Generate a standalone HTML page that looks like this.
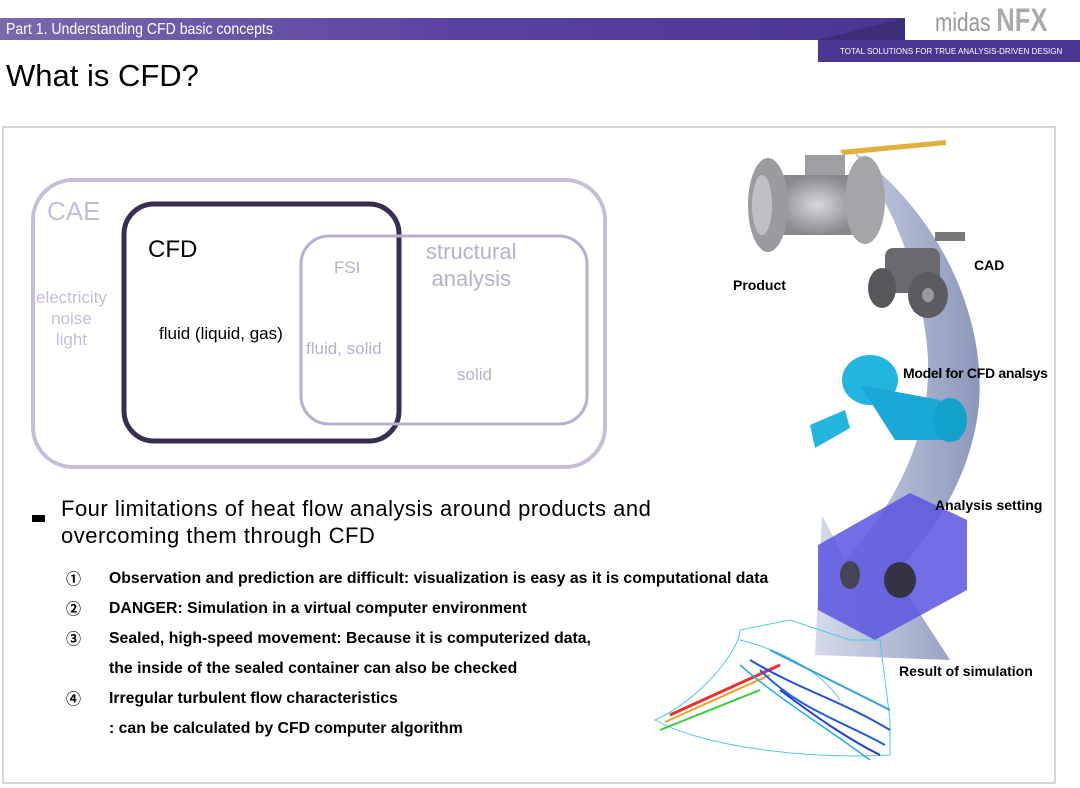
<!DOCTYPE html>
<html><head><meta charset="utf-8"><style>
body{margin:0;width:1080px;height:788px;background:#fff;position:relative;overflow:hidden;font-family:"Liberation Sans","Noto Sans CJK KR",sans-serif}
.a{position:absolute;white-space:nowrap}
</style></head><body>
<svg class="a" style="left:0;top:0" width="1080" height="788">
<defs>
<linearGradient id="hb" x1="0" x2="1"><stop offset="0" stop-color="#7a68ad"/><stop offset="0.5" stop-color="#5a43a0"/><stop offset="1" stop-color="#4a3590"/></linearGradient>
<linearGradient id="ar" x1="0" x2="1"><stop offset="0" stop-color="#d0d6e8"/><stop offset="1" stop-color="#7f8cb3"/></linearGradient>
<radialGradient id="vg"><stop offset="0" stop-color="#d8d8dc"/><stop offset="1" stop-color="#88888e"/></radialGradient>
</defs>
<rect x="0" y="18" width="905" height="22" fill="url(#hb)"/>
<polygon points="818,40 905,18 905,40" fill="#3e2d78"/>
<rect x="818" y="40" width="262" height="22" fill="#4a3590"/>
<rect x="3" y="127" width="1052" height="656" fill="none" stroke="#c8c8c8" stroke-width="1.5"/>
<rect x="33" y="180" width="572" height="287" rx="40" fill="none" stroke="#c7bdd9" stroke-width="4"/>
<rect x="124" y="204" width="275" height="237" rx="30" fill="none" stroke="#3a2d52" stroke-width="5"/>
<rect x="301" y="236" width="286" height="188" rx="28" fill="none" stroke="#b9aed0" stroke-width="3"/>
<!-- arrow -->
<path d="M852,150 C950,220 995,340 975,430 C960,500 920,545 895,575 L950,660 L815,655 L822,515 L845,560 C900,500 940,420 925,330 C915,260 890,200 852,150 Z" fill="url(#ar)" opacity="0.9"/>
<!-- product valve -->
<rect x="775" y="175" width="85" height="60" rx="10" fill="url(#vg)"/>
<ellipse cx="768" cy="205" rx="20" ry="47" fill="#9a9aa0"/>
<ellipse cx="762" cy="205" rx="10" ry="30" fill="#c0c0c4"/>
<ellipse cx="865" cy="200" rx="20" ry="44" fill="#a4a4aa"/>
<rect x="805" y="155" width="40" height="20" fill="#9d9da2"/>
<polygon points="840,150 946,140 946,145 843,155" fill="#e0b13a"/>
<!-- CAD -->
<rect x="885" y="248" width="55" height="45" rx="8" fill="#6a6a6e"/>
<ellipse cx="882" cy="288" rx="14" ry="20" fill="#58585c"/>
<ellipse cx="928" cy="295" rx="20" ry="23" fill="#5c5c60"/>
<ellipse cx="928" cy="295" rx="6" ry="7" fill="#999"/>
<rect x="935" y="232" width="30" height="9" fill="#777"/>
<!-- model -->
<ellipse cx="870" cy="380" rx="28" ry="25" fill="#22b5e0"/>
<polygon points="860,385 940,400 960,440 895,440" fill="#1aa8d6"/>
<ellipse cx="950" cy="420" rx="17" ry="22" fill="#13a0cc"/>
<polygon points="810,425 845,410 850,428 815,448" fill="#22b5e0"/>
<!-- analysis box -->
<polygon points="818,545 910,493 967,520 967,590 875,640 818,610" fill="#5a55e0" opacity="0.85"/>
<ellipse cx="900" cy="580" rx="16" ry="18" fill="#334"/>
<ellipse cx="850" cy="575" rx="10" ry="14" fill="#445"/>
<!-- result -->
<g fill="none" stroke-width="1">
<path d="M655,720 C700,700 740,650 740,630 L790,620 L850,640 L880,640 L890,720 L890,755 C800,760 700,745 655,720Z" stroke="#4dc8e8"/>
<path d="M740,640 C780,650 820,670 840,700" stroke="#4dc8e8"/>
<path d="M670,715 L780,665" stroke="#e83030" stroke-width="3"/>
<path d="M665,722 L770,675" stroke="#f5a020" stroke-width="2"/>
<path d="M660,730 L760,690" stroke="#3c3" stroke-width="2"/>
<path d="M750,660 C800,690 840,700 890,730" stroke="#2050e0" stroke-width="2"/>
<path d="M760,670 C800,710 840,720 885,745" stroke="#2060e0" stroke-width="2"/>
<path d="M770,650 C810,670 850,690 890,710" stroke="#30a0e0" stroke-width="2"/>
<path d="M780,690 C820,720 850,740 880,755" stroke="#2040d0" stroke-width="2"/>
<path d="M740,665 C780,700 830,730 870,760" stroke="#20b0e0" stroke-width="1.5"/>
</g>
</svg>
<div class="a" style="left:6px;top:21px;font-size:16px;color:#fff;transform:scaleX(0.88);transform-origin:0 0">Part 1. Understanding CFD basic concepts</div>
<div class="a" style="left:935px;top:2px;font-size:26px;color:#999;transform:scaleX(0.8);transform-origin:0 0">midas <b style="font-size:32px;color:#aaa">NFX</b></div>
<div class="a" style="left:840px;top:47px;font-size:8px;color:#fff">TOTAL SOLUTIONS FOR TRUE ANALYSIS-DRIVEN DESIGN</div>
<div class="a" style="left:6px;top:58px;font-size:31px;color:#000">What is CFD?</div>
<div class="a" style="left:47px;top:196px;font-size:26px;color:#c7bdd9">CAE</div>
<div class="a" style="left:36px;top:287px;font-size:17px;color:#c7bdd9;text-align:center;line-height:21px">electricity<br>noise<br>light</div>
<div class="a" style="left:148px;top:236px;font-size:24px;color:#000">CFD</div>
<div class="a" style="left:159px;top:324px;font-size:17px;color:#000">fluid (liquid, gas)</div>
<div class="a" style="left:334px;top:258px;font-size:17px;color:#b9aed0">FSI</div>
<div class="a" style="left:306px;top:339px;font-size:17px;color:#b9aed0">fluid, solid</div>
<div class="a" style="left:426px;top:238px;font-size:22px;color:#b9aed0;text-align:center;line-height:27px">structural<br>analysis</div>
<div class="a" style="left:457px;top:365px;font-size:17px;color:#b9aed0">solid</div>
<div class="a" style="left:32px;top:515px;width:13px;height:7px;background:#000"></div>
<div class="a" style="left:61px;top:495px;font-size:22px;letter-spacing:0.5px;color:#000;line-height:27px">Four limitations of heat flow analysis around products and<br>overcoming them through CFD</div>
<div class="a" style="left:66px;top:565px;font-size:15px;font-weight:bold;line-height:30px">①<br>②<br>③<br><br>④</div>
<div class="a" style="left:109px;top:564px;font-size:15.8px;font-weight:bold;line-height:30px">Observation and prediction are difficult: visualization is easy as it is computational data<br>DANGER: Simulation in a virtual computer environment<br>Sealed, high-speed movement: Because it is computerized data,<br>the inside of the sealed container can also be checked<br>Irregular turbulent flow characteristics<br>: can be calculated by CFD computer algorithm</div>
<div class="a" style="left:733px;top:277px;font-size:14px;font-weight:bold">Product</div>
<div class="a" style="left:974px;top:257px;font-size:14px;font-weight:bold">CAD</div>
<div class="a" style="left:903px;top:365px;font-size:14px;font-weight:bold;letter-spacing:-0.3px">Model for CFD analsys</div>
<div class="a" style="left:935px;top:497px;font-size:14px;font-weight:bold">Analysis setting</div>
<div class="a" style="left:899px;top:663px;font-size:14px;font-weight:bold">Result of simulation</div>
</body></html>
